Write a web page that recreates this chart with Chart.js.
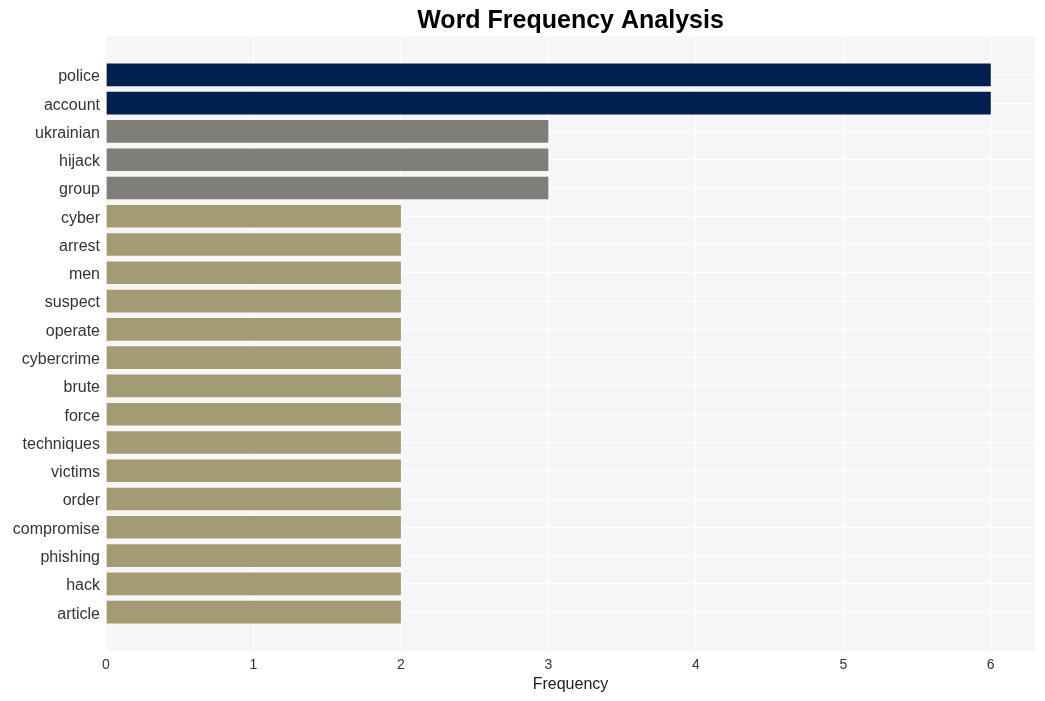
<!DOCTYPE html>
<html>
<head>
<meta charset="utf-8">
<script src="https://cdn.jsdelivr.net/npm/chart.js@4/dist/chart.umd.min.js"></script>
<style>
  html, body { margin: 0; padding: 0; background: #ffffff; }
  #wrap { width: 1045px; height: 701px; position: relative; }
</style>
</head>
<body>
<div id="wrap"><canvas id="c" width="1045" height="701"></canvas></div>
<script>
const words = ["police", "account", "ukrainian", "hijack", "group", "cyber", "arrest", "men", "suspect", "operate", "cybercrime", "brute", "force", "techniques", "victims", "order", "compromise", "phishing", "hack", "article"];
const frequencies = [6, 6, 3, 3, 3, 2, 2, 2, 2, 2, 2, 2, 2, 2, 2, 2, 2, 2, 2, 2];
const xTicks = [0, 1, 2, 3, 4, 5, 6];

const colorFor = v => v >= 6 ? "#00214f" : (v >= 3 ? "#7f7e79" : "#a39b73");

const panelBg = {
  id: "panelBg",
  beforeDraw(chart) {
    const { ctx, chartArea: a } = chart;
    ctx.save();
    ctx.fillStyle = "#ffffff";
    ctx.fillRect(0, 0, chart.width, chart.height);
    ctx.fillStyle = "#f6f6f6";
    ctx.fillRect(a.left, a.top, a.right - a.left, a.bottom - a.top);
    ctx.restore();
  }
};

new Chart(document.getElementById("c"), {
  type: "bar",
  data: {
    datasets: [{
      data: frequencies.map((v, i) => ({ x: v, y: i })),
      backgroundColor: frequencies.map(colorFor),
      borderWidth: 0,
      inflateAmount: 0,
      barPercentage: 0.8,
      categoryPercentage: 1.0
    }]
  },
  options: {
    indexAxis: "y",
    responsive: false,
    animation: false,
    layout: { padding: { left: 0, right: 10, top: 0, bottom: 0 } },
    plugins: {
      legend: { display: false },
      tooltip: { enabled: false },
      title: {
        display: true,
        text: "Word Frequency Analysis",
        fullSize: false,
        color: "#000000",
        font: { family: "Liberation Sans, Arial, sans-serif", size: 25, weight: "bold", lineHeight: 1.2 },
        padding: { top: 6, bottom: 0 }
      }
    },
    scales: {
      x: {
        type: "linear",
        min: 0,
        max: 6.3,
        afterBuildTicks: s => { s.ticks = xTicks.map(v => ({ value: v })); },
        afterFit: s => { s.height = 50; },
        border: { display: false },
        grid: { color: "#ffffff", lineWidth: 1.3, drawTicks: false },
        ticks: {
          color: "#333333",
          padding: 6,
          font: { family: "Liberation Sans, Arial, sans-serif", size: 14 }
        },
        title: {
          display: true,
          text: "Frequency",
          color: "#222222",
          font: { family: "Liberation Sans, Arial, sans-serif", size: 16 },
          padding: { top: 0, bottom: 7 }
        }
      },
      y: {
        type: "linear",
        reverse: true,
        offset: false,
        min: -1.375,
        max: words.length - 1 + 1.375,
        afterBuildTicks: s => { s.ticks = words.map((_, i) => ({ value: i })); },
        afterFit: s => { s.width = 106; },
        border: { display: false },
        grid: { color: "#ffffff", lineWidth: 1, drawTicks: false, offset: false },
        ticks: {
          color: "#333333",
          padding: 6,
          labelOffset: 2,
          autoSkip: false,
          font: { family: "Liberation Sans, Arial, sans-serif", size: 16 },
          callback: v => words[v]
        }
      }
    }
  },
  plugins: [panelBg]
});
</script>
</body>
</html>
